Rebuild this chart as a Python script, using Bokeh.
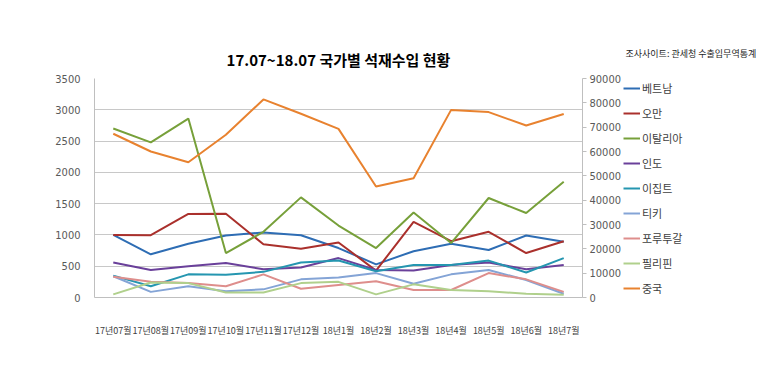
from bokeh.plotting import figure
from bokeh.layouts import row
from bokeh.models import (Range1d, LinearAxis, SingleIntervalTicker, Legend, LegendItem,
                          Label, FactorRange)
from bokeh.embed import file_html
from bokeh.resources import INLINE

months = ["17년07월", "17년08월", "17년09월", "17년10월", "17년11월", "17년12월", "18년1월",
          "18년2월", "18년3월", "18년4월", "18년5월", "18년6월", "18년7월"]

vietnam = [1000, 690, 860, 990, 1040, 995, 790, 530, 740, 860, 760, 990, 890]
oman = [1000, 995, 1335, 1340, 850, 780, 880, 430, 1210, 900, 1050, 710, 900]
italy = [2700, 2480, 2860, 710, 1050, 1600, 1150, 790, 1360, 870, 1590, 1350, 1850]
india = [560, 440, 500, 550, 450, 480, 630, 440, 430, 520, 560, 450, 520]
egypt = [350, 180, 370, 365, 410, 560, 590, 420, 520, 520, 590, 400, 630]
turkey = [340, 90, 180, 100, 130, 290, 320, 390, 220, 370, 440, 280, 60]
portugal = [330, 250, 230, 180, 370, 140, 200, 260, 120, 120, 390, 290, 90]
philippines = [50, 240, 230, 80, 80, 230, 250, 50, 210, 120, 100, 60, 45]
china = [67300, 60000, 55600, 66900, 81400, 75500, 69300, 45600, 49000, 77100, 76200, 70700, 75400]

left_series = [
    ("베트남", vietnam, "#2e6db4"),
    ("오만", oman, "#aa302c"),
    ("이탈리아", italy, "#77a03a"),
    ("인도", india, "#6a409a"),
    ("이집트", egypt, "#2596b0"),
    ("티키", turkey, "#84a4d6"),
    ("포루투갈", portugal, "#de8e8c"),
    ("필리핀", philippines, "#b0d08c"),
]
china_name = "중국"
china_color = "#e8822f"

title_text = "17.07~18.07 국가별 석재수입 현황"
source_text = "조사사이트: 관세청 수출입무역통계"

NUM_FONT = "Liberation Sans Narrow, DejaVu Sans Condensed, sans-serif"
KR_FONT = "Noto Sans CJK KR"
TXT = "#595959"
GRID = "#c8c8c8"

p = figure(x_range=FactorRange(factors=months, range_padding=0),
           y_range=Range1d(0, 3500),
           frame_width=488, frame_height=219, output_backend="svg", toolbar_location=None,
           min_border_left=94, min_border_right=35, min_border_top=78, min_border_bottom=63)
p.outline_line_color = None

p.title.text = title_text
p.title.text_font = KR_FONT
p.title.text_font_size = "15px"
p.title.text_font_style = "bold"
p.title.text_color = "#000000"
p.title.align = "center"
p.title.offset = 10
p.title.standoff = 17

p.extra_y_ranges = {"cn": Range1d(0, 90000)}

for name, vals, col in left_series:
    p.line(months, vals, line_color=col, line_width=2)
p.line(months, china, line_color=china_color, line_width=2, y_range_name="cn")

ya = p.yaxis[0]
ya.ticker = SingleIntervalTicker(interval=500)
ya.axis_line_color = "#bfbfbf"
ya.major_tick_line_color = None
ya.minor_tick_line_color = None
ya.major_label_text_font = NUM_FONT
ya.major_label_text_font_size = "11px"
ya.major_label_text_color = TXT
ya.major_label_standoff = 8

p.ygrid.ticker = SingleIntervalTicker(interval=500)
p.ygrid.grid_line_color = GRID
p.ygrid.grid_line_width = 1
p.xgrid.grid_line_color = None

ra = LinearAxis(y_range_name="cn", ticker=SingleIntervalTicker(interval=10000))
ra.axis_line_color = "#bfbfbf"
ra.major_tick_line_color = "#bfbfbf"
ra.major_tick_out = 4
ra.major_tick_in = 0
ra.minor_tick_line_color = None
ra.major_label_text_font = NUM_FONT
ra.major_label_text_font_size = "11px"
ra.major_label_text_color = TXT
ra.major_label_standoff = 3
p.add_layout(ra, "right")

xa = p.xaxis[0]
xa.axis_line_color = "#bfbfbf"
xa.major_tick_line_color = None
xa.minor_tick_line_color = None
xa.major_label_text_font = KR_FONT
xa.major_label_text_font_size = "9px"
xa.major_label_text_color = "#404040"
xa.major_label_standoff = 20

# ---- legend panel (separate figure to the right; its series lie outside its view) ----
leg = figure(x_range=FactorRange(factors=months, range_padding=0), y_range=Range1d(-2, -1),
             frame_width=135, frame_height=219, output_backend="svg", toolbar_location=None,
             min_border_left=0, min_border_right=0, min_border_top=78, min_border_bottom=63)
leg.axis.visible = False
leg.grid.visible = False
leg.outline_line_color = None

items = []
for name, vals, col in left_series:
    r = leg.line(months, vals, line_color=col, line_width=2)
    items.append(LegendItem(label=name, renderers=[r]))
r = leg.line(months, china, line_color=china_color, line_width=2)
items.append(LegendItem(label=china_name, renderers=[r]))

legend = Legend(items=items, location=(0, 1), orientation="vertical",
                glyph_width=17, glyph_height=16, label_height=16, spacing=9,
                label_standoff=2, padding=0, margin=0,
                label_text_font=KR_FONT, label_text_font_size="11px",
                label_text_color="#404040", border_line_color=None,
                background_fill_alpha=0)
leg.add_layout(legend, "center")

src = Label(x=2, y=25, x_units="screen", y_units="screen", text=source_text,
            text_font=KR_FONT, text_font_size="9px", text_color="#262626",
            text_align="left", text_baseline="middle")
leg.add_layout(src, "above")

open("out.html", "w").write(file_html(row(p, leg), INLINE))
